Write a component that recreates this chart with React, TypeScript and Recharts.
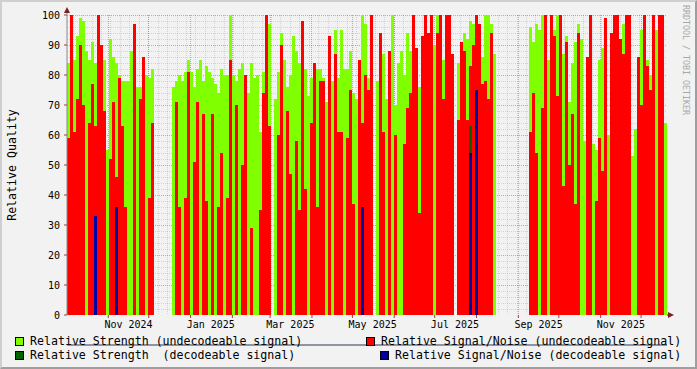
import React from 'react';
import { ComposedChart, Bar, XAxis, YAxis, CartesianGrid } from 'recharts';

const _ = null;

// one bin = 3px of the original graph (about 2.2 days), early Oct 2024 .. mid Dec 2025
const strengthUndecodeable: (number | null)[] = [
  84, 85, 85, 93, 99, 98, 88, 85, 91, 84,
  88, 89, 85, 55, 92, 86, 84, 80, 78, 78,
  78, 88, 76, 76, 76, 83, 80, 79, 82, _,
  _, _, _, _, _, 76, 78, 80, 78, 81,
  85, 81, 76, 82, 85, 78, 83, 81, 79, 77,
  74, 82, 80, 80, 100, 80, 78, 82, 84, 77,
  74, 84, 79, 80, 61, 81, 85, 97, _, 72,
  81, 94, 85, 76, 80, 93, 88, 84, 84, 82,
  73, 79, 84, 82, 82, 79, 71, 85, 78, 95,
  79, 95, 82, 82, 88, 74, 72, 79, 100, 97,
  79, 98, _, 78, 90, 87, 72, 80, 100, 70,
  84, 88, 80, 94, 88, 90, 88, 76, 80, 85,
  94, 89, 90, 100, 80, 85, 88, 90, 85, _,
  84, 88, 94, 92, 98, 97, 90, 88, 86, 100,
  100, 97, 87, _, _, _, _, _, _, _,
  _, _, _, _, 96, 91, 97, 95, 100, 95,
  85, 100, 95, 100, 87, 87, 93, 71, 84, 91,
  97, 92, 58, 42, 85, 57, 55, 85, 89, 80,
  60, 80, 77, 80, 85, 97, 90, 66, 53, 62,
  71, 95, 88, 85, 80, 80, 95, 100, 73, 64,
];

const snrUndecodeable: (number | null)[] = [
  59, 100, 61, 72, 90, 70, _, 64, 77, 63,
  100, 90, 68, _, 52, 71, 46, 79, 63, 36,
  _, _, 97, _, 72, 86, _, 39, 64, _,
  _, _, _, _, _, _, 71, 36, _, 39,
  81, _, 51, 71, _, 67, 38, _, 67, _,
  36, 54, _, 39, 85, _, 70, _, 50, 80,
  _, 29, _, _, 35, 74, 100, 63, _, _,
  60, 90, _, 68, 47, _, 58, 35, 98, 42,
  _, 64, 84, 36, 78, 78, _, 93, _, 87,
  61, 61, _, 59, 75, 37, _, 85, 64, 80,
  75, 100, _, _, 94, 61, _, 88, _, 60,
  _, _, 57, 69, 74, 100, 89, 34, 93, 100,
  94, 100, _, 94, 100, 72, 100, 100, 87, _,
  65, 91, 88, 65, 83, 90, 100, 97, 77, 78,
  72, 94, _, _, _, _, _, _, _, _,
  _, _, _, _, 61, 74, 54, _, 69, 100,
  _, 100, 93, 73, 100, 43, 91, 50, 67, 37,
  94, _, _, 86, 100, _, 38, 59, 48, 99,
  _, 94, 100, 100, 92, 87, 100, 100, _, _,
  86, 70, 100, 83, 75, 100, _, 100, 100, _,
];

// decodeable signal only shows up on a handful of days: [bin, value]
const strengthDecodeable: [number, number][] = [[134, 63]];
const snrDecodeable: [number, number][] = [[9, 33], [16, 36], [98, 36], [134, 54], [136, 75]];

// time axis in days since 1 Nov 2024
const DAY_MIN = -30.6;
const DAY_MAX = 414.2;
const monthStarts = [0, 30, 61, 92, 120, 151, 181, 212, 242, 273, 304, 334, 365, 395];
const labelMonths = [0, 61, 120, 181, 242, 304, 365];
const labelTexts = ['Nov 2024', 'Jan 2025', 'Mar 2025', 'May 2025', 'Jul 2025', 'Sep 2025', 'Nov 2025'];
const yTicks = [0, 10, 20, 30, 40, 50, 60, 70, 80, 90, 100];

const FONT = "'DejaVu Sans Mono', monospace";
const PLOT_L = 67;
const PLOT_B = 315;

const dMap = new Map(strengthDecodeable);
const bMap = new Map(snrDecodeable);
const binDays = (DAY_MAX - DAY_MIN) / strengthUndecodeable.length;

// rrdtool paints each AREA from zero over the previous one, so only the part
// sticking out above the later layers is visible -> stack the visible parts
const rows = strengthUndecodeable.map((g, i) => {
  const r = snrUndecodeable[i];
  const d = dMap.get(i) ?? null;
  const b = bMap.get(i) ?? null;
  const top1 = Math.max(b ?? 0, d ?? 0);
  const top2 = Math.max(top1, r ?? 0);
  return {
    bin: i,
    day: DAY_MIN + (i + 0.5) * binDays,
    blue: b,
    dgreen: d != null && d > (b ?? 0) ? d - (b ?? 0) : null,
    red: r != null && r > top1 ? r - top1 : null,
    green: g != null && g > top2 ? g - top2 : null,
  };
});

const labelByDay = new Map(labelMonths.map((m, i) => [m + 15, labelTexts[i]]));
const xTicks = [...monthStarts, ...labelMonths.map((m) => m + 15)].sort((a, b) => a - b);

const weekLines: number[] = [];
for (let d = 2 - 28; d <= DAY_MAX; d += 7) weekLines.push(d);
const minorY: number[] = [];
for (let v = 2; v < 100; v += 2) if (v % 10) minorY.push(v);

const XTick = (props: any) => {
  const { x, payload } = props;
  const lab = labelByDay.get(payload.value);
  if (lab) {
    return (
      <text x={x} y={PLOT_B + 9} textAnchor="middle" dominantBaseline="central" fontSize={10} fontFamily={FONT} fill="#000">
        {lab}
      </text>
    );
  }
  return <line x1={x} x2={x} y1={PLOT_B} y2={PLOT_B + 3} stroke="#9a4040" />;
};

const YTick = (props: any) => {
  const { y, payload } = props;
  return (
    <g>
      <line x1={PLOT_L - 3} x2={PLOT_L} y1={y} y2={y} stroke="#9a4040" />
      <text x={PLOT_L - 7} y={y} textAnchor="end" dominantBaseline="central" fontSize={10} fontFamily={FONT} fill="#000">
        {payload.value}
      </text>
    </g>
  );
};

const legend = [
  { color: '#80FF00', text: 'Relative Strength (undecodeable signal)', left: 15, top: 336 },
  { color: '#006400', text: 'Relative Strength  (decodeable signal)', left: 15, top: 350 },
  { color: '#FF0000', text: 'Relative Signal/Noise (undecodeable signal)', left: 366, top: 336 },
  { color: '#0000A0', text: 'Relative Signal/Noise (decodeable signal)', left: 380, top: 350 },
];

export default function App() {
  return (
    <div style={{ position: 'absolute', left: 0, top: 0, width: 697, height: 369, background: '#f2f2f2', fontFamily: FONT }}>
      <ComposedChart
        width={697}
        height={369}
        data={rows}
        margin={{ top: 15, right: 30, bottom: 0, left: 0 }}
        barCategoryGap="0%"
        barGap="0%"
        style={{ position: 'absolute', left: 0, top: 0 }}
      >
        <XAxis xAxisId="bins" dataKey="bin" type="category" hide />
        <XAxis
          xAxisId="t"
          dataKey="day"
          type="number"
          domain={[DAY_MIN, DAY_MAX]}
          allowDataOverflow
          ticks={xTicks}
          interval={0}
          tick={<XTick />}
          tickLine={false}
          axisLine={{ stroke: '#2a3558' }}
          height={54}
        />
        <YAxis
          domain={[0, 100]}
          ticks={yTicks}
          interval={0}
          width={67}
          tick={<YTick />}
          tickLine={false}
          axisLine={{ stroke: '#8a8a8a' }}
        />
        <Bar xAxisId="bins" stackId="q" dataKey="blue" fill="#0000A0" isAnimationActive={false} />
        <Bar xAxisId="bins" stackId="q" dataKey="dgreen" fill="#006400" isAnimationActive={false} />
        <Bar xAxisId="bins" stackId="q" dataKey="red" fill="#FF0000" isAnimationActive={false} />
        <Bar xAxisId="bins" stackId="q" dataKey="green" fill="#80FF00" isAnimationActive={false} />
        <CartesianGrid
          xAxisId="t"
          horizontalValues={minorY}
          verticalValues={weekLines}
          stroke="rgba(140,140,140,0.3)"
          strokeDasharray="1 1"
          shapeRendering="crispEdges"
        />
        <CartesianGrid
          xAxisId="t"
          horizontalValues={yTicks.slice(1)}
          verticalValues={monthStarts}
          stroke="rgba(130,30,30,0.35)"
          strokeDasharray="1 1"
          shapeRendering="crispEdges"
        />
      </ComposedChart>

      <svg width={697} height={369} style={{ position: 'absolute', left: 0, top: 0, pointerEvents: 'none' }}>
        <line x1={PLOT_L} x2={PLOT_L} y1={15} y2={9} stroke="#8a8a8a" />
        <polygon points="64,13 70,13 67,7" fill="#7f1f1f" />
        <line x1={667} x2={671} y1={PLOT_B} y2={PLOT_B} stroke="#2a3558" />
        <polygon points="668,312 668,318 674,315" fill="#7f1f1f" />
        <text
          x={686}
          y={5}
          transform="rotate(90 686 5)"
          fontSize={8.3}
          fontFamily={FONT}
          fill="#a8a8a8"
          dominantBaseline="central"
        >
          RRDTOOL / TOBI OETIKER
        </text>
        <text
          x={12}
          y={165}
          transform="rotate(-90 12 165)"
          textAnchor="middle"
          dominantBaseline="central"
          fontSize={11.6}
          fontFamily={FONT}
          fill="#000"
        >
          Relative Quality
        </text>
      </svg>

      {legend.map((l) => (
        <div key={l.text} style={{ position: 'absolute', left: l.left, top: l.top, display: 'flex', alignItems: 'center', height: 11 }}>
          <div style={{ width: 7, height: 7, background: l.color, border: '1px solid #000', marginRight: 6 }} />
          <span style={{ fontSize: 11.6, lineHeight: '11px', whiteSpace: 'pre', color: '#000' }}>{l.text}</span>
        </div>
      ))}

      <div
        style={{
          position: 'absolute',
          inset: 0,
          borderTop: '2px solid #cfcfcf',
          borderLeft: '2px solid #cfcfcf',
          borderBottom: '2px solid #9e9e9e',
          borderRight: '2px solid #9e9e9e',
          pointerEvents: 'none',
        }}
      />
    </div>
  );
}
